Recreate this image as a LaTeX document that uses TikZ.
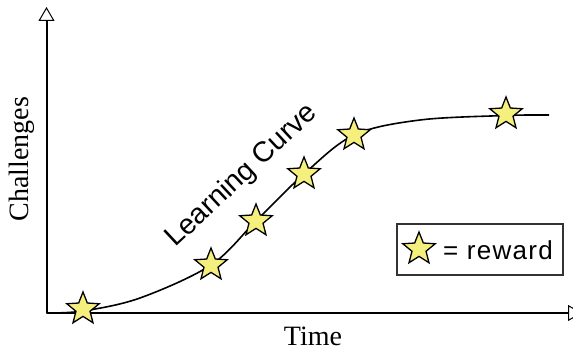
\documentclass[tikz,border=0pt]{standalone}
\usepackage{fontspec}
\setmainfont{Liberation Serif}
\setsansfont{Liberation Sans}
\usetikzlibrary{shapes.geometric,arrows.meta}
\definecolor{staryellow}{RGB}{245,240,125}
\tikzset{
  axis/.style={line width=2pt,-{Triangle[open,length=14pt,width=16pt,line width=1pt]}},
  curveline/.style={line width=1.6pt},
  rewardstar/.style={star,star points=5,star point ratio=2.3,draw=black,line width=1.3pt,
    fill=staryellow,minimum size=34pt,inner sep=0pt},
  serifl/.style={font=\fontsize{28}{30}\selectfont\rmfamily},
  sansl/.style={font=\fontsize{28.5}{30}\selectfont\sffamily},
}
\begin{document}
\begin{tikzpicture}[x=1pt,y=-1pt]
\useasboundingbox (0,0) rectangle (573,352);
\coordinate (O) at (46.5,313);
\coordinate (ytop) at (46.5,7);
\coordinate (xend) at (582,313);
\draw[axis] (O) -- (ytop);
\draw[axis] (O) -- (xend);
\draw[curveline] plot[smooth,tension=0.55] coordinates
  {(46.5,313) (83,311) (140,298) (211,265) (256,221) (304,174) (354,135) (420,120) (506,115.5) (549,115)};
\node[rewardstar] (s1) at (83,309) {};
\node[rewardstar] (s2) at (211,265) {};
\node[rewardstar] (s3) at (256,221) {};
\node[rewardstar] (s4) at (304,174) {};
\node[rewardstar] (s5) at (354,135) {};
\node[rewardstar] (s6) at (506,114) {};
\node[serifl,rotate=90] (ylab) at (22,159) {Challenges};
\node[serifl,anchor=base] (xlab) at (313,346) {Time};
\node[sansl,rotate=43] (lc) at (242,176) {Learning Curve};
\node[draw=black!80,line width=1.2pt,minimum width=166pt,minimum height=51pt,inner sep=0pt] (legend) at (480,249.5) {};
\node[rewardstar] (ls) at (419,249) {};
\node[font=\fontsize{26}{28}\selectfont\sffamily\addfontfeatures{LetterSpace=5},anchor=west,inner sep=0pt] (lt) at (443,250) {= reward};
\end{tikzpicture}
\end{document}
